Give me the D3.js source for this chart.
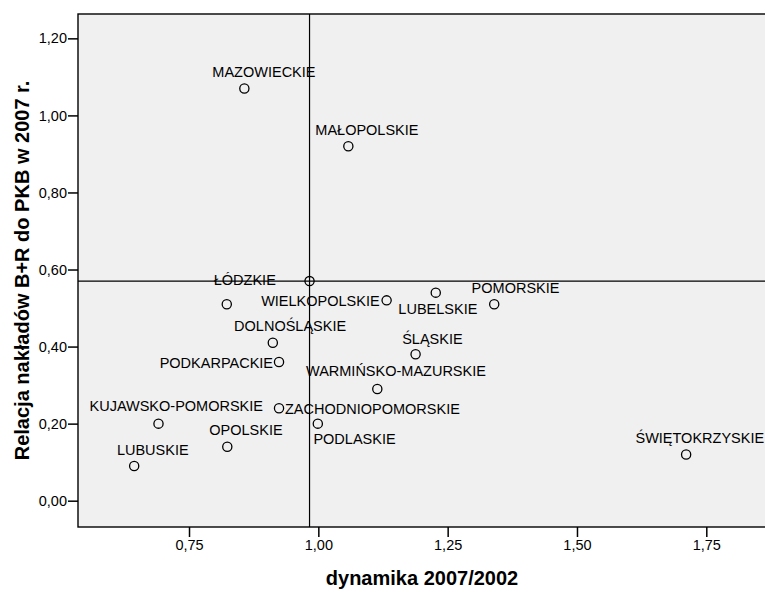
<!DOCTYPE html>
<html>
<head>
<meta charset="utf-8">
<script src="https://cdn.jsdelivr.net/npm/d3@7"></script>
<style>
  html, body { margin: 0; padding: 0; background: #fff; }
  svg { display: block; font-family: "Liberation Sans", Arial, sans-serif; }
</style>
</head>
<body>
<svg id="chart" width="765" height="590"></svg>
<script>
// ---- data ----
const regions = ["MAZOWIECKIE","MAŁOPOLSKIE","ŁÓDZKIE","WIELKOPOLSKIE","LUBELSKIE","POMORSKIE",
  "DOLNOŚLĄSKIE","PODKARPACKIE","ŚLĄSKIE","WARMIŃSKO-MAZURSKIE","ZACHODNIOPOMORSKIE","PODLASKIE",
  "ŚWIĘTOKRZYSKIE","KUJAWSKO-POMORSKIE","OPOLSKIE","LUBUSKIE"];
const dynamika = [0.857, 1.058, 0.823, 1.132, 1.227, 1.340, 0.912, 0.924, 1.188, 1.114, 0.924, 0.999, 1.711, 0.691, 0.824, 0.644];
const relacja  = [1.07, 0.92, 0.51, 0.52, 0.54, 0.51, 0.41, 0.36, 0.38, 0.29, 0.24, 0.20, 0.12, 0.20, 0.14, 0.09];
// Poland (mean) point, also where the reference lines cross
const polskaDynamika = 0.983;
const polskaRelacja = 0.57;
const xTicks = [0.75, 1.00, 1.25, 1.50, 1.75];
const yTicks = [0.00, 0.20, 0.40, 0.60, 0.80, 1.00, 1.20];
const xTitle = "dynamika 2007/2002";
const yTitle = "Relacja nakładów B+R do PKB w 2007 r.";

// ---- label placement (layout, SPSS-like) ----
const labelPlacement = {
  "MAZOWIECKIE": ["start", -32, -11],
  "MAŁOPOLSKIE": ["start", -33, -11],
  "ŁÓDZKIE": ["start", -13, -19],
  "WIELKOPOLSKIE": ["end", -7, 5.5],
  "LUBELSKIE": ["start", -37.4, 21.7],
  "POMORSKIE": ["start", -22.6, -11],
  "DOLNOŚLĄSKIE": ["start", -38.7, -11.6],
  "PODKARPACKIE": ["end", -6, 5.6],
  "ŚLĄSKIE": ["start", -13.4, -10.7],
  "WARMIŃSKO-MAZURSKIE": ["start", -71.3, -12.7],
  "ZACHODNIOPOMORSKIE": ["start", 6, 5.3],
  "PODLASKIE": ["start", -4.4, 20.6],
  "ŚWIĘTOKRZYSKIE": ["end", 78, -11.6],
  "KUJAWSKO-POMORSKIE": ["start", -69, -12.6],
  "OPOLSKIE": ["start", -18, -11.6],
  "LUBUSKIE": ["start", -17.3, -11]
};

const svg = d3.select("#chart");
const pLeft = 78, pRight = 766, pTop = 14, pBottom = 527;

const x = d3.scaleLinear().domain([0.5354, 1.8654]).range([pLeft, pRight]);
const y = d3.scaleLinear().domain([-0.0683, 1.2632]).range([pBottom, pTop]);
const fmt = v => d3.format(".2f")(v).replace(".", ",");

// plot background
svg.append("rect")
  .attr("x", pLeft).attr("y", pTop)
  .attr("width", pRight - pLeft).attr("height", pBottom - pTop)
  .attr("fill", "#f0f0f0").attr("stroke", "#000").attr("stroke-width", 1.4);

// reference lines
svg.append("line")
  .attr("x1", x(polskaDynamika)).attr("x2", x(polskaDynamika))
  .attr("y1", pTop).attr("y2", pBottom)
  .attr("stroke", "#000").attr("stroke-width", 1.2);
svg.append("line")
  .attr("x1", pLeft).attr("x2", pRight)
  .attr("y1", y(polskaRelacja)).attr("y2", y(polskaRelacja))
  .attr("stroke", "#000").attr("stroke-width", 1.2);

// axes
const xAxis = d3.axisBottom(x).tickValues(xTicks).tickFormat(fmt).tickSize(10).tickSizeOuter(0);
const yAxis = d3.axisLeft(y).tickValues(yTicks).tickFormat(fmt).tickSize(10).tickSizeOuter(0);

const gx = svg.append("g").attr("transform", `translate(0,${pBottom})`).call(xAxis);
gx.select(".domain").remove();
gx.selectAll(".tick line").attr("stroke", "#000").attr("stroke-width", 1.5);
gx.selectAll(".tick text").attr("font-size", 14.5).attr("fill", "#000")
  .attr("font-family", "Liberation Sans, Arial, sans-serif").attr("dy", "0.71em").attr("y", 13);

const gy = svg.append("g").attr("transform", `translate(${pLeft},0)`).call(yAxis);
gy.select(".domain").remove();
gy.selectAll(".tick line").attr("stroke", "#000").attr("stroke-width", 1.5);
gy.selectAll(".tick text").attr("font-size", 14.5).attr("fill", "#000")
  .attr("font-family", "Liberation Sans, Arial, sans-serif").attr("x", -11);

// points
const pts = regions.map((r, i) => ({name: r, dx: dynamika[i], rel: relacja[i]}));
pts.push({name: "", dx: polskaDynamika, rel: polskaRelacja});

svg.append("g").selectAll("circle").data(pts).join("circle")
  .attr("cx", d => x(d.dx)).attr("cy", d => y(d.rel)).attr("r", 4.6)
  .attr("fill", "none").attr("stroke", "#000").attr("stroke-width", 1.3);

// labels
svg.append("g").selectAll("text").data(pts.filter(d => d.name)).join("text")
  .attr("x", d => x(d.dx) + labelPlacement[d.name][1])
  .attr("y", d => y(d.rel) + labelPlacement[d.name][2])
  .attr("text-anchor", d => labelPlacement[d.name][0])
  .attr("font-size", 14.5).attr("fill", "#000")
  .text(d => d.name);

// axis titles
svg.append("text")
  .attr("x", (pLeft + pRight) / 2).attr("y", 585)
  .attr("text-anchor", "middle").attr("font-size", 20).attr("font-weight", "bold")
  .text(xTitle);

svg.append("text")
  .attr("transform", `translate(28.5,${(pTop + pBottom) / 2}) rotate(-90)`)
  .attr("text-anchor", "middle").attr("font-size", 20).attr("font-weight", "bold")
  .text(yTitle);
</script>
</body>
</html>
